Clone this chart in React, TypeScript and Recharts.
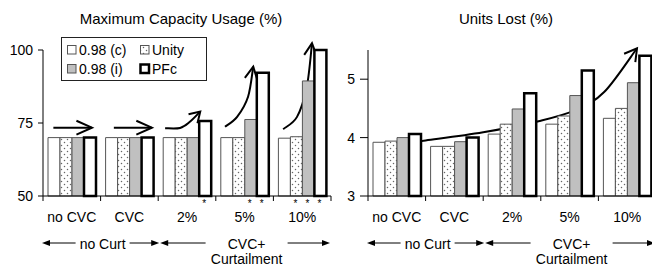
import React from 'react';
import * as R from 'recharts';

const { BarChart, Bar, XAxis, YAxis, Legend, LabelList, Customized } = R as any;
const usePlotAreaSafe: () => any = (R as any).usePlotArea || (() => null);

const FONT = '"Liberation Sans", Arial, Helvetica, sans-serif';

// ---------- data ----------
const categories = ['no CVC', 'CVC', '2%', '5%', '10%'];
const seriesNames = ['0.98 (c)', 'Unity', '0.98 (i)', 'PFc'];

const capC = [70, 70, 70, 70, 69.8];
const capUnity = [70, 70, 70, 70, 70.3];
const capI = [70, 70, 70, 76.2, 89.4];
const capPFc = [70, 70, 75.7, 92.2, 100];

const lostC = [3.92, 3.85, 4.06, 4.23, 4.33];
const lostUnity = [3.94, 3.85, 4.23, 4.37, 4.5];
const lostI = [4.0, 3.93, 4.49, 4.72, 4.94];
const lostPFc = [4.06, 4.0, 4.76, 5.15, 5.4];

const capTicks = [50, 75, 100];
const capDomain = [50, 100];
const lostTicks = [3, 4, 5];
const lostDomain = [3, 5.5];

// significance stars under bars (1 = star)
const starsUnity = [0, 0, 0, 0, 1];
const starsI = [0, 0, 0, 1, 1];
const starsPFc = [0, 0, 1, 1, 1];

// trend arrows, in (category position, value) units
const capArrows = [
  [[0.18, 73.4], [0.85, 73.4]],
  [[1.23, 73.4], [1.89, 73.4]],
  [[2.12, 73.2], [2.38, 73.3], [2.55, 75.4], [2.73, 78.9]],
  [[3.16, 73.7], [3.37, 77.1], [3.56, 84.0], [3.65, 94.3]],
  [[4.17, 72.9], [4.41, 77.1], [4.58, 87.4], [4.67, 102.3]],
];
const lostArrows = [
  [[0.12, 3.84], [1.0, 3.95], [2.0, 4.09], [3.0, 4.29], [3.6, 4.47], [4.1, 4.78], [4.67, 5.53]],
];

const groups = [
  { lines: ['no Curt'], from: 0, to: 2 },
  { lines: ['CVC+', 'Curtailment'], from: 2, to: 5 },
];

// ---------- styles ----------
const capHeads = [[17, 24], [17, 24], [12, 32], [14, 27], [14, 27]];
const lostHeads = [[14, 30]];
const groupGaps = [27, 41];

const capData = categories.map((cat, i) => ({ cat, c: capC[i], u: capUnity[i], i: capI[i], p: capPFc[i] }));
const lostData = categories.map((cat, i) => ({ cat, c: lostC[i], u: lostUnity[i], i: lostI[i], p: lostPFc[i] }));

function pathThrough(pts: number[][]) {
  let d = `M${pts[0][0]},${pts[0][1]}`;
  for (let k = 0; k < pts.length - 1; k++) {
    const p0 = pts[k - 1] || pts[k];
    const p1 = pts[k];
    const p2 = pts[k + 1];
    const p3 = pts[k + 2] || p2;
    const c1 = [p1[0] + (p2[0] - p0[0]) / 6, p1[1] + (p2[1] - p0[1]) / 6];
    const c2 = [p2[0] - (p3[0] - p1[0]) / 6, p2[1] - (p3[1] - p1[1]) / 6];
    d += ` C${c1[0]},${c1[1]} ${c2[0]},${c2[1]} ${p2[0]},${p2[1]}`;
  }
  return d;
}

function Annot(props: any) {
  const pa = usePlotAreaSafe() || props.fallback;
  const { x: px, y: py, width: pw, height: ph } = pa;
  const n = categories.length;
  const band = pw / n;
  const [dmin, dmax] = props.domain;
  const X = (c: number) => px + c * band;
  const Y = (v: number) => py + ph - ((v - dmin) / (dmax - dmin)) * ph;
  const bottom = py + ph;
  const yLine = bottom + 47;
  const els: any[] = [];
  for (let i = 0; i <= n; i++) {
    els.push(<line key={'t' + i} x1={X(i)} x2={X(i)} y1={bottom} y2={bottom + 5} stroke="#000" strokeWidth={1} />);
  }
  props.arrows.forEach((a: number[][], k: number) => {
    const pts = a.map(([c, v]) => [X(c), Y(v)]);
    els.push(<path key={'a' + k} d={pathThrough(pts)} fill="none" stroke="#000" strokeWidth={2} />);
    const tip = pts[pts.length - 1];
    const prev = pts[pts.length - 2];
    const dx = tip[0] - prev[0];
    const dy = tip[1] - prev[1];
    const len = Math.hypot(dx, dy) || 1;
    const ux = dx / len, uy = dy / len;
    const [L, ang] = props.heads[k];
    const r = (ang * Math.PI) / 180;
    const arm = (s: number) => {
      const cs = Math.cos(s * r), sn = Math.sin(s * r);
      const rx = ux * cs - uy * sn;
      const ry = ux * sn + uy * cs;
      return [tip[0] - L * rx, tip[1] - L * ry];
    };
    const a1 = arm(1), a2 = arm(-1);
    els.push(
      <path key={'h' + k} d={`M${a1[0]},${a1[1]} L${tip[0]},${tip[1]} L${a2[0]},${a2[1]}`} fill="none" stroke="#000" strokeWidth={2} strokeLinejoin="miter" />
    );
  });
  groups.forEach((g, k) => {
    const x0 = X(g.from) + (k === 0 ? -1 : 2);
    const x1 = X(g.to) + (k === groups.length - 1 ? -1 : 1);
    const mid = (X(g.from) + X(g.to)) / 2 + 2;
    const gap = groupGaps[k];
    els.push(<line key={'gl' + k} x1={x0 + 6} x2={mid - gap} y1={yLine} y2={yLine} stroke="#000" strokeWidth={1} />);
    els.push(<line key={'gr' + k} x1={mid + gap} x2={x1 - 6} y1={yLine} y2={yLine} stroke="#000" strokeWidth={1} />);
    els.push(<polygon key={'pl' + k} points={`${x0},${yLine} ${x0 + 8},${yLine - 3} ${x0 + 8},${yLine + 3}`} fill="#000" />);
    els.push(<polygon key={'pr' + k} points={`${x1},${yLine} ${x1 - 8},${yLine - 3} ${x1 - 8},${yLine + 3}`} fill="#000" />);
    g.lines.forEach((t, j) => {
      els.push(
        <text key={'gt' + k + j} x={mid} y={bottom + 52.5 + j * 15.5} textAnchor="middle" fontSize={14} fontFamily={FONT} fill="#000">
          {t}
        </text>
      );
    });
  });
  els.push(
    <text key="title" x={px + pw / 2 - 6} y={23.5} textAnchor="middle" fontSize={15} fontFamily={FONT} fill="#000">
      {props.title}
    </text>
  );
  return <g>{els}</g>;
}

const starLabel = (flags: number[]) => (props: any) => {
  const vb = props.viewBox || props;
  const idx = props.index;
  if (!flags[idx]) return null;
  const x = Number(vb.x) + Number(vb.width) / 2;
  const yb = Number(vb.y) + Number(vb.height);
  return (
    <text x={x - 1} y={yb + 11} textAnchor="middle" fontSize={10} fontFamily={FONT} fill="#000" stroke="none">
      *
    </text>
  );
};

const CatTick = (p: any) => (
  <text x={p.x} y={p.y + 26} textAnchor="middle" fontSize={14} fontFamily={FONT} fill="#000">
    {p.payload.value}
  </text>
);

const LegendBox = () => {
  const sw = [
    { x: 6, y: 8, fill: '#fff', stroke: '#555', sw: 1 },
    { x: 79, y: 8, fill: 'url(#dots)', stroke: '#555', sw: 1 },
    { x: 6, y: 27, fill: '#c0c0c0', stroke: '#555', sw: 1 },
    { x: 79, y: 27, fill: '#fff', stroke: '#000', sw: 2.5 },
  ];
  return (
    <svg width={146} height={44} style={{ display: 'block' }}>
      <rect x={0.5} y={0.5} width={145} height={43} fill="#fff" stroke="#222" strokeWidth={1} />
      {seriesNames.map((name, k) => (
        <g key={name}>
          <rect x={sw[k].x + 0.5} y={sw[k].y + 0.5} width={8.5} height={8.5} fill={sw[k].fill} stroke={sw[k].stroke} strokeWidth={sw[k].sw} />
          <text x={sw[k].x + 12} y={sw[k].y + 10} fontSize={14} fontFamily={FONT} fill="#000">
            {name}
          </text>
        </g>
      ))}
    </svg>
  );
};

const tickStyle = { fontSize: 14, fill: '#000', fontFamily: FONT };

export default function App() {
  return (
    <div style={{ position: 'absolute', left: 0, top: 0, width: 652, height: 267, overflow: 'hidden', background: '#fff' }}>
      <svg width={0} height={0} style={{ position: 'absolute' }}>
        <defs>
          <pattern id="dots" patternUnits="userSpaceOnUse" width={6} height={6}>
            <rect x={0} y={0} width={6} height={6} fill="#fff" />
            <circle cx={1.5} cy={1.5} r={0.75} fill="#666" />
            <circle cx={4.5} cy={4.5} r={0.75} fill="#666" />
          </pattern>
        </defs>
      </svg>
      <div style={{ position: 'absolute', left: 0, top: 0 }}>
        <BarChart width={335} height={267} data={capData} margin={{ top: 50, right: 4, bottom: 41, left: 8 }} barGap={0} barSize={12}>
          <XAxis dataKey="cat" tickLine={false} tickSize={0} tickMargin={0} axisLine={{ stroke: '#000' }} tick={CatTick} interval={0} />
          <YAxis width={35} domain={capDomain} ticks={capTicks} tickSize={5} tickMargin={5} axisLine={{ stroke: '#000' }} tickLine={{ stroke: '#000' }} tick={tickStyle} interval={0} />
          <Bar dataKey="c" name={seriesNames[0]} fill="#fff" stroke="#555" strokeWidth={1} isAnimationActive={false} />
          <Bar dataKey="u" name={seriesNames[1]} fill="url(#dots)" stroke="#555" strokeWidth={1} isAnimationActive={false}>
            <LabelList dataKey="u" content={starLabel(starsUnity)} />
          </Bar>
          <Bar dataKey="i" name={seriesNames[2]} fill="#c0c0c0" stroke="#555" strokeWidth={1} isAnimationActive={false}>
            <LabelList dataKey="i" content={starLabel(starsI)} />
          </Bar>
          <Bar dataKey="p" name={seriesNames[3]} fill="#fff" stroke="#000" strokeWidth={2.5} isAnimationActive={false}>
            <LabelList dataKey="p" content={starLabel(starsPFc)} />
          </Bar>
          <Legend layout="horizontal" verticalAlign="middle" align="center" wrapperStyle={{ left: 61, top: 37, width: 146, height: 44 }} content={() => <LegendBox />} />
          <Customized component={<Annot domain={capDomain} arrows={capArrows} heads={capHeads} title="Maximum Capacity Usage (%)" fallback={{ x: 43, y: 50, width: 288, height: 146 }} />} />
        </BarChart>
      </div>
      <div style={{ position: 'absolute', left: 320, top: 0 }}>
        <BarChart width={340} height={267} data={lostData} margin={{ top: 50, right: 4, bottom: 41, left: 13 }} barGap={0} barSize={12}>
          <XAxis dataKey="cat" tickLine={false} tickSize={0} tickMargin={0} axisLine={{ stroke: '#000' }} tick={CatTick} interval={0} />
          <YAxis width={35} domain={lostDomain} ticks={lostTicks} tickSize={8} tickMargin={5} axisLine={{ stroke: '#000' }} tickLine={{ stroke: '#000' }} tick={tickStyle} interval={0} />
          <Bar dataKey="c" name={seriesNames[0]} fill="#fff" stroke="#555" strokeWidth={1} isAnimationActive={false} />
          <Bar dataKey="u" name={seriesNames[1]} fill="url(#dots)" stroke="#555" strokeWidth={1} isAnimationActive={false} />
          <Bar dataKey="i" name={seriesNames[2]} fill="#c0c0c0" stroke="#555" strokeWidth={1} isAnimationActive={false} />
          <Bar dataKey="p" name={seriesNames[3]} fill="#fff" stroke="#000" strokeWidth={2.5} isAnimationActive={false} />
          <Customized component={<Annot domain={lostDomain} arrows={lostArrows} heads={lostHeads} title="Units Lost (%)" fallback={{ x: 368, y: 50, width: 288, height: 146 }} />} />
        </BarChart>
      </div>
    </div>
  );
}
